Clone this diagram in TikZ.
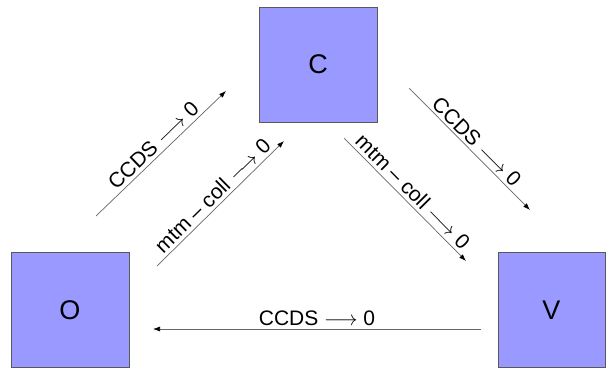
\documentclass[tikz,border=0pt]{standalone}
\usepackage{fontspec}
\setmainfont{Liberation Sans}
\usetikzlibrary{positioning,arrows.meta}
\definecolor{boxblue}{HTML}{9999FF}
\begin{document}
\begin{tikzpicture}
[x=1pt,y=-1pt,
 every node/.style={font=\fontsize{21}{24}\selectfont},
 state/.style={draw=black!65,fill=boxblue,inner sep=0pt,outer sep=0pt,
   minimum width=118pt,minimum height=115pt,font=\fontsize{27}{30}\selectfont},
 flow/.style={draw=black!60,line width=0.7pt,-{Latex[black,length=7pt,width=5pt]}}]
\useasboundingbox (0,0) rectangle (606,370);
\node[state] (C) at (318,64.5)                                   {C};
\node[state] (O) [on grid,below  left=245.5pt and 248pt of C]    {O};
\node[state,minimum width=107pt] (V) [on grid,below right=245.5pt and 233.5pt of C] {V};
\coordinate (oc1) at (96,216);  \coordinate (oc2) at (226,91);
\coordinate (om1) at (157,266); \coordinate (om2) at (284,141);
\coordinate (cv1) at (409,88);  \coordinate (cv2) at (530,210);
\coordinate (cm1) at (344,138); \coordinate (cm2) at (466,261);
\coordinate (vo1) at (481,329); \coordinate (vo2) at (153,329);
\draw[flow] (oc1) -- node[sloped,above]       {CCDS $\longrightarrow$ 0} (oc2);
\draw[flow] (om1) -- node[sloped,above]       {mtm – coll $\longrightarrow$ 0} (om2);
\draw[flow] (cv1) -- node[sloped,above=-1pt]  {CCDS $\longrightarrow$ 0} (cv2);
\draw[flow] (cm1) -- node[sloped,above]       {mtm – coll $\longrightarrow$ 0} (cm2);
\draw[flow] (vo1) -- node[above]              {CCDS $\longrightarrow$ 0} (vo2);
\end{tikzpicture}
\end{document}
